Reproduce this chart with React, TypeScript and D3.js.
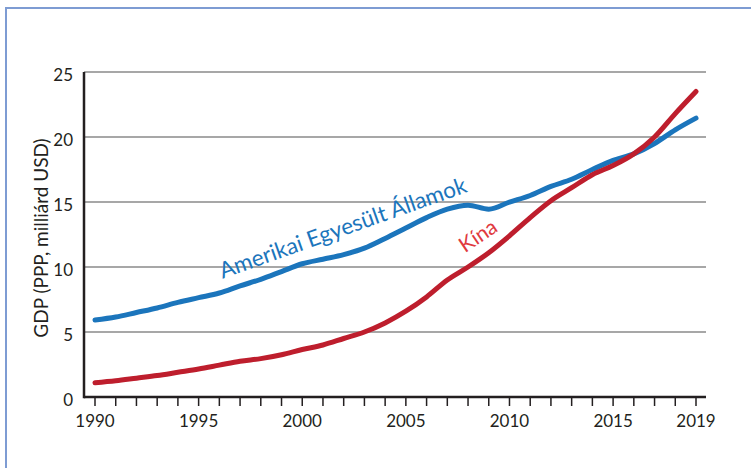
import React from "react";
import * as d3 from "d3";

const years = d3.range(1990, 2020);
const usaValues = [5.92, 6.15, 6.5, 6.85, 7.28, 7.64, 8.0, 8.55, 9.05, 9.65, 10.25, 10.6, 10.95, 11.45, 12.2, 13.0, 13.8, 14.45, 14.75, 14.45, 14.99, 15.5, 16.2, 16.75, 17.5, 18.2, 18.7, 19.5, 20.55, 21.45];
const chinaValues = [1.1, 1.25, 1.45, 1.65, 1.9, 2.15, 2.45, 2.75, 2.95, 3.25, 3.65, 4.0, 4.5, 5.0, 5.7, 6.6, 7.7, 9.0, 10.0, 11.1, 12.4, 13.8, 15.1, 16.1, 17.1, 17.8, 18.7, 20.0, 21.8, 23.5];
const xTickLabels = [1990, 1995, 2000, 2005, 2010, 2015, 2019];
const yTicks = [0, 5, 10, 15, 20, 25];
const usaLabel = "Amerikai Egyesült Államok";
const chinaLabel = "Kína";
const yAxisLabel = "GDP (PPP, milliárd USD)";

const FONT = "Lato, 'Noto Sans', sans-serif";

export default function App() {
  const x = d3.scaleLinear().domain([1990, 2019]).range([95, 696]);
  const y = d3.scaleLinear().domain([0, 25]).range([397, 72]);
  const axisLeft = 84;
  const axisRight = 706;

  const line = d3
    .line<number>()
    .x((_, i) => x(years[i]))
    .y((d) => y(d))
    .curve(d3.curveMonotoneX);

  const usaStart = [x(1996.15), y(9.1)];
  const chinaStart = [x(2007.85), y(11.05)];

  return (
    <svg
      width={751}
      height={468}
      style={{ position: "fixed", left: 0, top: 0, background: "#fff" }}
      fontFamily={FONT}
    >
      <rect x={6} y={8} width={800} height={500} fill="none" stroke="#7e9cd3" strokeWidth={2} />
      {yTicks.filter((t) => t > 0).map((t) => (
        <line key={t} x1={axisLeft} x2={axisRight} y1={y(t)} y2={y(t)} stroke="#8a8a8a" strokeWidth={1.5} />
      ))}
      {yTicks.map((t) => (
        <text key={t} x={73} y={y(t) + 9} textAnchor="end" fontSize={17} fill="#231f20">
          {t}
        </text>
      ))}
      {years.map((yr) => (
        <line key={yr} x1={x(yr)} x2={x(yr)} y1={y(0)} y2={y(0) + 9} stroke="#231f20" strokeWidth={1.5} />
      ))}
      {xTickLabels.map((yr) => (
        <text key={yr} x={x(yr)} y={427} textAnchor="middle" fontSize={17} fill="#231f20">
          {yr}
        </text>
      ))}
      <line x1={axisLeft} x2={axisRight} y1={y(0)} y2={y(0)} stroke="#231f20" strokeWidth={2.5} />
      <line x1={axisLeft} x2={axisLeft} y1={y(25)} y2={y(0) + 1.25} stroke="#231f20" strokeWidth={2.5} />
      <text
        transform={`translate(48,${238}) rotate(-90)`}
        textAnchor="middle"
        fontSize={19}
        fill="#231f20"
      >
        {yAxisLabel}
      </text>
      <path d={line(usaValues) || ""} fill="none" stroke="#1b75bc" strokeWidth={5} strokeLinecap="round" strokeLinejoin="round" />
      <path d={line(chinaValues) || ""} fill="none" stroke="#be1e2d" strokeWidth={5} strokeLinecap="round" strokeLinejoin="round" />
      <text
        transform={`translate(${usaStart[0]},${usaStart[1]}) rotate(-19.5)`}
        fontSize={22.5}
        fill="#1b75bc"
      >
        {usaLabel}
      </text>
      <text
        transform={`translate(${chinaStart[0]},${chinaStart[1]}) rotate(-34)`}
        fontSize={21}
        fill="#e0393e"
      >
        {chinaLabel}
      </text>
    </svg>
  );
}
